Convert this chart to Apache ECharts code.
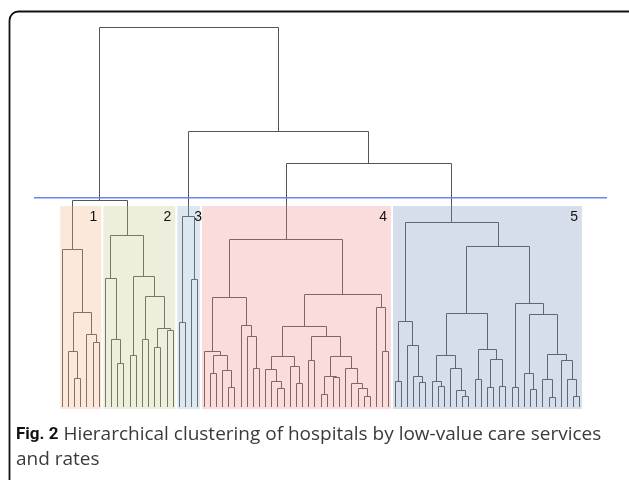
<!DOCTYPE html>
<html><head><meta charset="utf-8">
<script src="https://cdn.jsdelivr.net/npm/echarts@6/dist/echarts.min.js"></script>
<style>html,body{margin:0;padding:0;background:#fff}#c{width:629px;height:480px}</style>
</head><body><div id="c"></div><script>
// leaf marker; internal node = [left, right, mergeHeight]
const o = 'leaf';

const cluster1 = [o, [[o, [o, o, 2.9], 5.6], [o, [o, o, 6.5], 7.3], 9.5], 15.7];
const cluster2 = [[o, [o, [o, o, 4.4], 6.8], 12.9],
                  [[o, o, 5.2], [[o, o, 6.8], [[o, o, 6.0], [o, o, 7.7], 7.9], 11.1], 13.1], 17.1];
const cluster3 = [[o, o, 8.5], [o, o, 12.8], 19.0];
const cluster4 = [
  [[o, [[o, o, 3.4], [o, [o, o, 2.0], 3.7], 5.2], 5.6],
   [o, [o, [o, o, 3.9], 7.1], 8.2], 11.0],
  [[[[o, [o, [o, o, 1.9], 2.6], 3.8], [o, [o, o, 2.4], 4.1], 5.1],
    [[o, o, 4.7], [[[o, o, 1.3], [o, o, 3.0], 3.1], [o, [o, [o, [o, o, 1.1], 1.9], 2.4], 3.9], 5.1], 7.1], 8.1],
   [o, [o, o, 5.6], 10.0], 11.3], 16.7];
const cluster5 = [
  [[o, o, 2.6], [o, [o, [o, o, 2.5], 3.1], 6.2], 8.6],
  [[[[o, [o, o, 2.1], 2.6], [o, [o, [o, o, 1.1], 1.7], 3.9], 5.2],
    [[o, o, 2.8], [[o, o, 2.0], [o, o, 2.1], 4.8], 5.8], 9.4],
   [[o, o, 2.0], [[o, [o, o, 1.8], 3.4], [[o, [o, o, 1.0], 2.8], [o, [o, [o, o, 1.1], 2.8], 4.7], 5.3], 9.3], 10.4], 16.0], 18.4];

const clusters = [cluster1, cluster2, cluster3, cluster4, cluster5];
const clusterLabels = ['1', '2', '3', '4', '5'];
// upper merges joining the clusters
const h12 = 20.6, h45 = 24.3, h345 = 27.5, hRoot = 37.9;
const cutHeight = 20.93;
const rectTop = 20.1;
const rectBottom = -0.2;
const labelHeight = 19.0;

// styles
const clusterFills = ['rgba(245,178,132,0.3)', 'rgba(198,198,138,0.3)', 'rgba(142,175,205,0.3)',
                      'rgba(238,138,132,0.3)', 'rgba(118,145,192,0.3)'];
const labelDx = [-4, -4, 2, -4, -4];
const cutColor = '#6a84f2';

const tree = [[cluster1, cluster2, h12], [cluster3, [cluster4, cluster5, h45], h345], hRoot];

const segs = [];
const ranges = [];
const state = { i: 0 };
function build(node) {
  if (node === o) { const x = state.i++; return { x: x, h: 0 }; }
  const ci = clusters.indexOf(node);
  const start = state.i;
  const a = build(node[0]);
  const b = build(node[1]);
  const h = node[2];
  segs.push([a.x, a.h, b.x, b.h, h]);
  if (ci >= 0) ranges[ci] = [start, state.i - 1];
  return { x: (a.x + b.x) / 2, h: h };
}
build(tree);

const rectData = ranges.map((r, i) => [r[0] - 0.34, r[1] + 0.33, rectTop, rectBottom, i]);
const labelData = ranges.map((r, i) => [r[1] + 0.33, labelHeight, i]);

function crisp(v) { return Math.round(v - 0.5) + 0.5; }

// fit caption font so the first line spans like the original figure
const capFont = '"Open Sans", "Noto Sans", sans-serif';
const cv = document.createElement('canvas').getContext('2d');
cv.font = '17px ' + capFont;
const bodyW = cv.measureText(' Hierarchical clustering of hospitals by low-value care services').width;
const capSize = Math.max(14, Math.min(19, 17 * 543 / bodyW));

const chart = echarts.init(document.getElementById('c'), null, { renderer: 'canvas' });
chart.setOption({
  animation: false,
  grid: { left: 34, right: 22, top: 28, bottom: 70 },
  xAxis: { type: 'value', min: -4.6, max: 88.4, show: false },
  yAxis: { type: 'value', min: -0.3, max: 37.9, show: false },
  graphic: [
    { type: 'rect', z: 100, shape: { x: 9.5, y: 11.5, width: 640, height: 500, r: 9 },
      style: { fill: 'none', stroke: '#111', lineWidth: 1.8 } },
    { type: 'text', z: 100, x: 16, y: 434.5,
      style: { text: '{b|Fig. 2} Hierarchical clustering of hospitals by low-value care services',
        fontSize: capSize, fontFamily: capFont, fill: '#3a3a3a', verticalAlign: 'middle',
        rich: { b: { fontWeight: 'bold', fontSize: 17, fontFamily: 'Roboto', fill: '#111' } } } },
    { type: 'text', z: 100, x: 16, y: 459.5,
      style: { text: 'and rates', fontSize: capSize, fontFamily: capFont, fill: '#3a3a3a', verticalAlign: 'middle' } }
  ],
  series: [
    {
      type: 'custom', z: 2, silent: true,
      data: segs,
      renderItem: function (params, api) {
        const p1 = api.coord([api.value(0), api.value(1)]);
        const p2 = api.coord([api.value(0), api.value(4)]);
        const p3 = api.coord([api.value(2), api.value(4)]);
        const p4 = api.coord([api.value(2), api.value(3)]);
        const xa = crisp(p1[0]), xb = crisp(p3[0]), yh = crisp(p2[1]);
        return { type: 'polyline',
          shape: { points: [[xa, p1[1]], [xa, yh], [xb, yh], [xb, p4[1]]] },
          style: { stroke: '#555555', lineWidth: 1, fill: 'none' } };
      }
    },
    {
      type: 'custom', z: 3, silent: true,
      data: rectData,
      renderItem: function (params, api) {
        const a = api.coord([api.value(0), api.value(2)]);
        const b = api.coord([api.value(1), api.value(3)]);
        return { type: 'rect',
          shape: { x: a[0], y: a[1], width: b[0] - a[0], height: b[1] - a[1] },
          style: { fill: clusterFills[api.value(4)] } };
      }
    },
    {
      type: 'line', z: 6, silent: true, symbol: 'none',
      data: [[-4.6, cutHeight], [88.4, cutHeight]],
      lineStyle: { color: cutColor, width: 1.5 },
      itemStyle: { color: cutColor }
    },
    {
      type: 'custom', z: 4, silent: true,
      data: labelData,
      renderItem: function (params, api) {
        const p = api.coord([api.value(0), api.value(1)]);
        const i = api.value(2);
        return { type: 'text', x: p[0] + labelDx[i], y: p[1],
          style: { text: clusterLabels[i], fill: '#111', fontSize: 14,
            fontFamily: 'Liberation Sans', align: 'right', verticalAlign: 'middle' } };
      }
    }
  ]
});
</script></body></html>
